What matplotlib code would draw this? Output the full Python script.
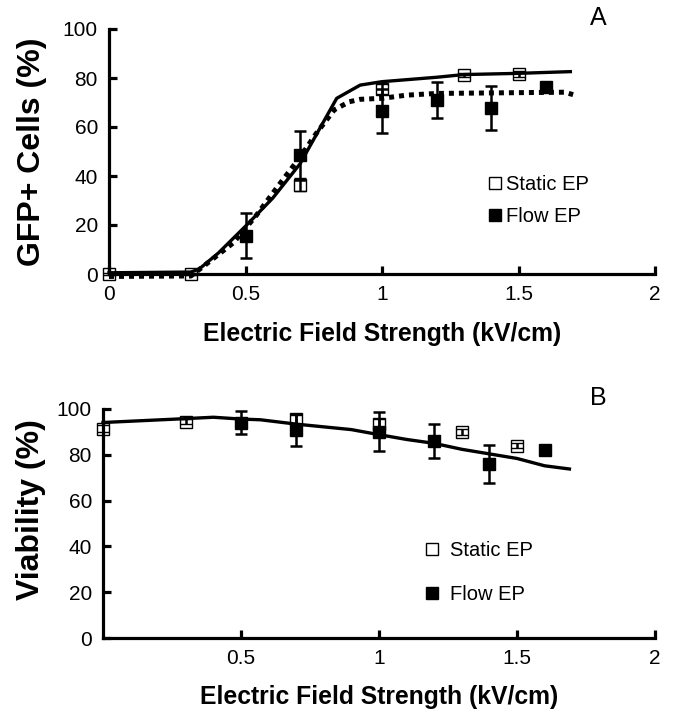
import matplotlib
matplotlib.use('Agg')
import matplotlib.pyplot as plt
from matplotlib import font_manager as fm
from matplotlib.lines import Line2D

names = {f.name for f in fm.fontManager.ttflist}
NARROW = 'Liberation Sans Narrow' if 'Liberation Sans Narrow' in names else 'Liberation Sans'
IS_NARROW = NARROW == 'Liberation Sans Narrow'
WIDE = 'Liberation Sans'

# ---------------- Data: panel A (GFP+ cells) ----------------
static_x_a = [0, 0.3, 0.7, 1.0, 1.3, 1.5]
static_y_a = [0, 0, 36.5, 75.5, 81.4, 81.6]
static_err_a = [0.5, 0.5, 2.6, 2.0, 0.8, 1.2]
flow_x_a = [0.5, 0.7, 1.0, 1.2, 1.4, 1.6]
flow_y_a = [15.6, 48.5, 66.5, 71.0, 67.8, 76.2]
flow_err_a = [9.2, 10.0, 9.0, 7.2, 9.0, 1.0]

fit_static_x_a = [0, 0.3, 0.33, 0.4, 0.5, 0.6, 0.7, 0.77, 0.834, 0.92, 1.0, 1.2, 1.3, 1.5, 1.69]
fit_static_y_a = [0.5, 0.8, 2, 8.5, 19.5, 31, 45, 59, 71.7, 77.1, 78.5, 80.3, 81.4, 81.9, 82.6]
fit_flow_x_a = [0, 0.3, 0.35, 0.456, 0.54, 0.62, 0.7, 0.76, 0.825, 0.88, 0.92, 1.0, 1.09, 1.2, 1.67, 1.7]
fit_flow_y_a = [-1, -0.8, 3.5, 12.8, 24, 36, 47.7, 57.5, 67, 70.3, 71.3, 71.7, 73, 73.7, 74.2, 73.2]

# ---------------- Data: panel B (viability) ----------------
static_x_b = [0, 0.3, 0.7, 1.0, 1.3, 1.5]
static_y_b = [91.4, 94.5, 95.5, 93.5, 90.0, 84.0]
static_err_b = [1.5, 1.2, 2.0, 2.0, 1.2, 1.2]
flow_x_b = [0.5, 0.7, 1.0, 1.2, 1.4, 1.6]
flow_y_b = [94.0, 91.0, 90.0, 86.0, 76.0, 82.0]
flow_err_b = [5.0, 7.0, 8.5, 7.3, 8.3, 1.2]

fit_x_b = [0, 0.3, 0.4, 0.5, 0.57, 0.7, 0.9, 1.0, 1.1, 1.2, 1.3, 1.5, 1.6, 1.69]
fit_y_b = [94.1, 95.8, 96.4, 95.6, 95.3, 93.4, 91, 88.8, 86.7, 85, 82.4, 78.4, 75.2, 73.8]

xticks_a = [0, 0.5, 1, 1.5, 2]
xticklabels_a = ['0', '0.5', '1', '1.5', '2']
xticks_b = [0.5, 1, 1.5, 2]
xticklabels_b = ['0.5', '1', '1.5', '2']
yticks = [0, 20, 40, 60, 80, 100]
xlabel = 'Electric Field Strength (kV/cm)'
ylabel_a = 'GFP+ Cells (%)'
ylabel_b = 'Viability (%)'
legend_labels = ['Static EP', 'Flow EP']

TICK_FS = 17 if IS_NARROW else 15
XLAB_FS = 21 if IS_NARROW else 17.8
LEG_FS = 17 if IS_NARROW else 14.5

W, H = 674, 715
fig = plt.figure(figsize=(W / 100, H / 100), dpi=100)


def px_axes(l, t, r, b):
    return fig.add_axes([l / W, 1 - b / H, (r - l) / W, (b - t) / H])


def style(ax, xt, xtl):
    for s in ['top', 'right']:
        ax.spines[s].set_visible(False)
    for s in ['left', 'bottom']:
        ax.spines[s].set_linewidth(2.3)
    ax.set_xlim(0, 2)
    ax.set_ylim(0, 100)
    ax.set_xticks(xt)
    ax.set_xticklabels(xtl)
    ax.set_yticks(yticks)
    ax.tick_params(direction='in', length=6, width=2.3, labelsize=TICK_FS, pad=8)
    for lab in ax.get_xticklabels() + ax.get_yticklabels():
        lab.set_fontfamily(NARROW)


mk = dict(marker='s', ms=8.5, ls='none', ecolor='black', elinewidth=1.8,
          capsize=4, capthick=1.8, clip_on=False)

# ---------------- Panel A ----------------
axA = px_axes(109, 29, 655, 274)
style(axA, xticks_a, xticklabels_a)
axA.plot(fit_static_x_a, fit_static_y_a, color='black', lw=2.4, clip_on=False, zorder=3)
axA.plot(fit_flow_x_a, fit_flow_y_a, color='black', lw=3.6, ls=(0, (1, 1)),
         dash_capstyle='butt', clip_on=False, zorder=3)
axA.errorbar(static_x_a, static_y_a, yerr=static_err_a, mfc='none', mec='black',
             mew=1.0, zorder=4, **mk)
axA.errorbar(flow_x_a, flow_y_a, yerr=flow_err_a, mfc='black', mec='black',
             zorder=4, **mk)
axA.set_xlabel(xlabel, fontsize=XLAB_FS, fontweight='bold', family=NARROW)
axA.xaxis.set_label_coords(0.5, -0.196)
axA.set_ylabel(ylabel_a, fontsize=23, fontweight='bold', family=WIDE)
axA.yaxis.set_label_coords(-0.114, 0.5)

handles = [Line2D([], [], marker='s', ls='none', ms=8.5, mfc='none', mec='black', mew=1.0),
           Line2D([], [], marker='s', ls='none', ms=8.5, mfc='black', mec='black')]
axA.legend(handles, legend_labels, frameon=False, loc='center left',
           bbox_to_anchor=(0.662, 0.30), handlelength=0.6, handletextpad=0.25,
           labelspacing=0.62, prop={'family': NARROW, 'size': LEG_FS})

fig.text(598 / W, 1 - 18 / H, 'A', fontsize=18, family=NARROW, ha='center', va='center')

# ---------------- Panel B ----------------
axB = px_axes(103, 409, 655, 638)
style(axB, xticks_b, xticklabels_b)
axB.plot(fit_x_b, fit_y_b, color='black', lw=2.4, clip_on=False, zorder=3)
axB.errorbar(static_x_b, static_y_b, yerr=static_err_b, mfc='none', mec='black',
             mew=1.0, zorder=4, **mk)
axB.errorbar(flow_x_b, flow_y_b, yerr=flow_err_b, mfc='black', mec='black',
             zorder=4, **mk)
axB.set_xlabel(xlabel, fontsize=XLAB_FS, fontweight='bold', family=NARROW)
axB.xaxis.set_label_coords(0.5, -0.205)
axB.set_ylabel(ylabel_b, fontsize=23, fontweight='bold', family=WIDE)
axB.yaxis.set_label_coords(-0.103, 0.56)
axB.legend(handles, legend_labels, frameon=False, loc='center left',
           bbox_to_anchor=(0.553, 0.285), handlelength=0.6, handletextpad=0.55,
           labelspacing=1.25, prop={'family': NARROW, 'size': LEG_FS})

fig.text(598 / W, 1 - 398 / H, 'B', fontsize=18, family=NARROW, ha='center', va='center')

fig.savefig('out.png', dpi=100)
